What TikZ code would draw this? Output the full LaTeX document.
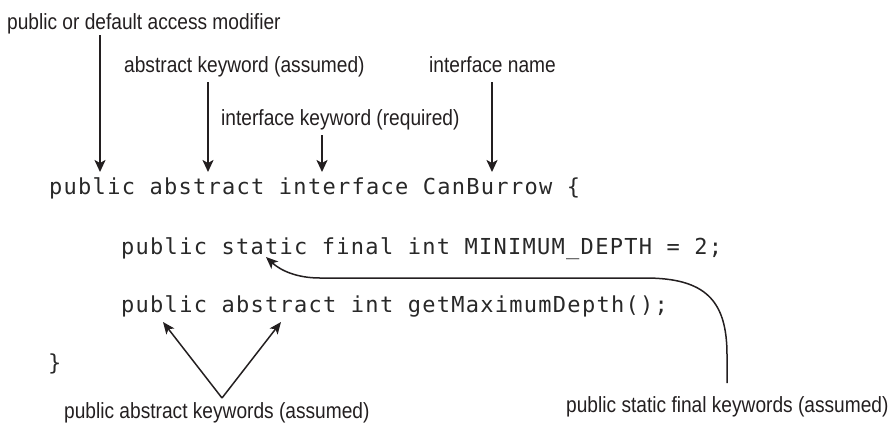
\documentclass[tikz,border=0pt]{standalone}
\usepackage{fontspec}
\setmainfont{Liberation Sans}
\newfontfamily\labelfont[FakeStretch=0.87]{Liberation Sans}
\newfontfamily\codefont[LetterSpace=5.8]{DejaVu Sans Mono}
\usetikzlibrary{arrows.meta}
\definecolor{ink}{RGB}{35,31,32}
\definecolor{codeink}{RGB}{40,40,40}
\tikzset{
  lbl/.style={anchor=base west, inner sep=0pt, text=ink, font=\labelfont\fontsize{22}{25}\selectfont},
  code/.style={anchor=base west, inner sep=0pt, text=codeink, font=\codefont\fontsize{22}{26}\selectfont},
  callout/.style={draw=ink, line width=2pt, -{Stealth[length=12pt,width=11pt,inset=3pt]}},
  thincallout/.style={draw=ink, line width=1.5pt, -{Stealth[length=12pt,width=10pt,inset=3pt]}}
}
\begin{document}
\begin{tikzpicture}[x=1pt,y=-1pt]
\useasboundingbox (0,0) rectangle (890,426);
% code
\node[code] (c1) at (49,194) {public abstract interface CanBurrow \{};
\node[code] (c2) at (121,254) {public static final int MINIMUM\_DEPTH = 2;};
\node[code] (c3) at (121,312) {public abstract int getMaximumDepth();};
\node[code] (c4) at (48,370) {\}};
% labels
\node[lbl] (l1) at (7,29) {public or default access modifier};
\node[lbl] (l2) at (124,72) {abstract keyword (assumed)};
\node[lbl] (l3) at (221,125) {interface keyword (required)};
\node[lbl] (l4) at (429,72) {interface name};
\node[lbl] (l5) at (64,418) {public abstract keywords (assumed)};
\node[lbl] (l6) at (566,412) {public static final keywords (assumed)};
% tip coordinates
\coordinate (t1) at (100,172);
\coordinate (t2) at (208,172);
\coordinate (t3) at (322,172);
\coordinate (t4) at (492,172);
\coordinate (apex) at (222,398);
\coordinate (tpublic) at (163,322);
\coordinate (tabstract) at (281,322);
\coordinate (tstatic) at (266,257);
\coordinate (cs) at (727,383);
% vertical arrows
\draw[callout] ([yshift=-6pt]l1.base -| t1) -- (t1);
\draw[callout] ([yshift=-10pt]l2.base -| t2) -- (t2);
\draw[callout] ([yshift=-10pt]l3.base -| t3) -- (t3);
\draw[callout] ([yshift=-10pt]l4.base -| t4) -- (t4);
% V arrows
\draw[thincallout] (apex) -- (tpublic);
\draw[thincallout] (apex) -- (tabstract);
% curved arrow
\draw[thincallout] (cs) -- (727,355) .. controls (727,300) and (705,278) .. (645,278) -- (320,278) .. controls (296,278) and (280,270) .. (tstatic);
\end{tikzpicture}
\end{document}
